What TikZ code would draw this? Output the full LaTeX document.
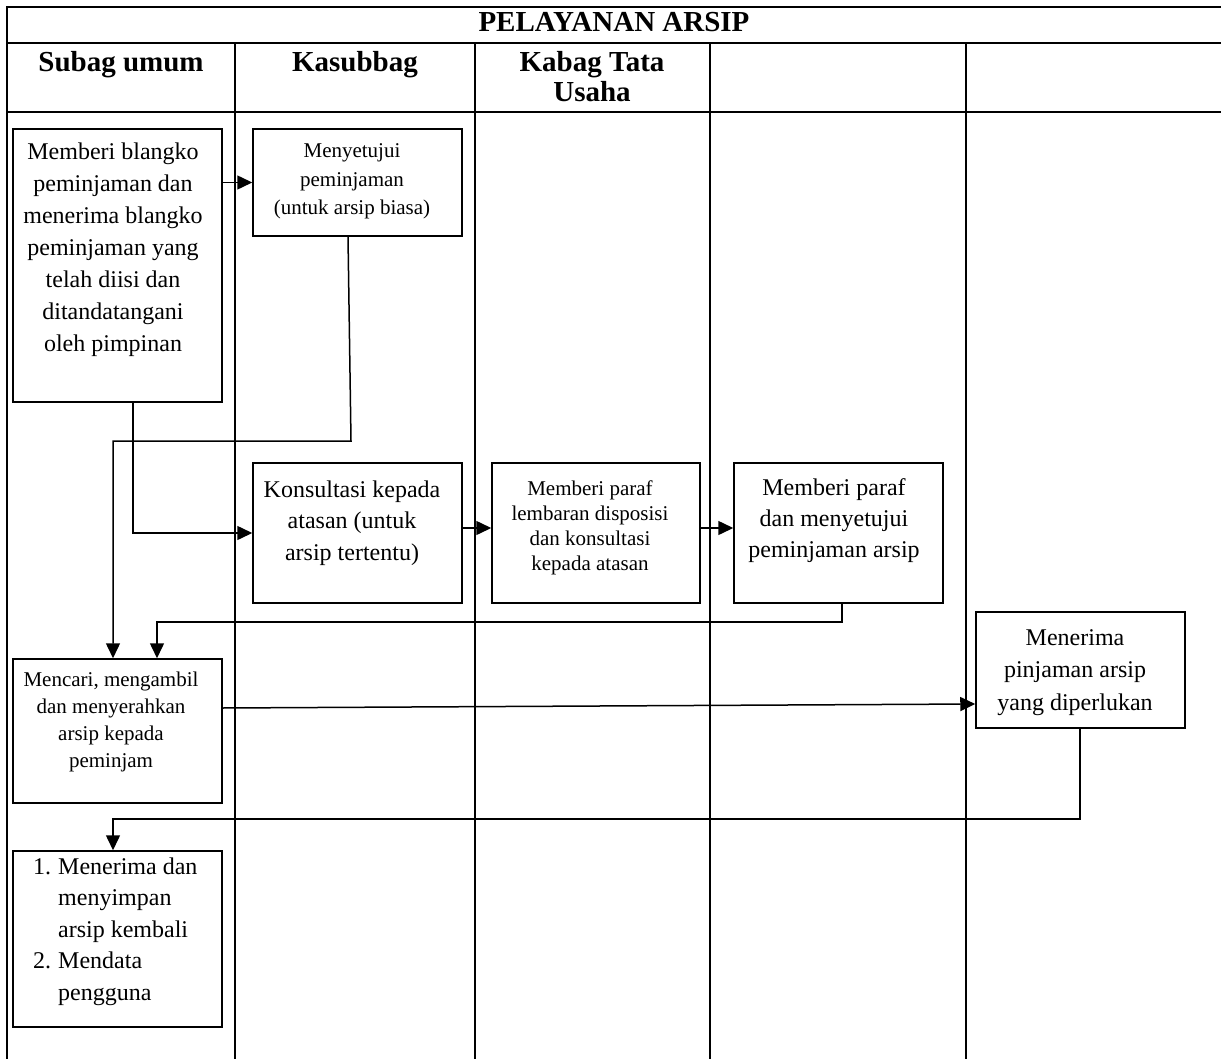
\documentclass[tikz,border=0pt]{standalone}
\usepackage{fontspec}
\setmainfont{Liberation Serif}
\usetikzlibrary{arrows.meta}
\begin{document}
\begin{tikzpicture}[x=1pt,y=-1pt,
  grid/.style={line width=2.2pt,line cap=rect},
  box/.style={draw,line width=1.5pt,inner sep=0pt,minimum width=209pt},
  conn/.style={line width=1.5pt},
  arr/.style={conn,-{Triangle[length=15pt,width=14pt]}},
  head/.style={font=\fontsize{29}{30}\selectfont\bfseries,inner sep=0pt},
  txt/.style={inner sep=0pt},
]
\useasboundingbox (0,0) rectangle (1221,1059);

% table frame and swimlanes
\draw[grid] (7,7) -- (1221,7);
\draw[grid] (7,43) -- (1221,43);
\draw[grid] (7,112) -- (1221,112);
\draw[grid] (7,7) -- (7,1059);
\foreach \x in {235,475,710,966} \draw[grid] (\x,43) -- (\x,1059);

% headings
\node[head,anchor=base] (title) at (614,32) {PELAYANAN ARSIP};
\node[head,anchor=base] (h1) at (121,72) {Subag umum};
\node[head,anchor=base] (h2) at (355,72) {Kasubbag};
\node[head] (h3) at (592,81) {\fontsize{29}{30}\selectfont\begin{tabular}{@{}c@{}}Kabag Tata\\Usaha\end{tabular}};

% process boxes
\node[box,minimum height=273pt] (box1) at (117.5,265.5) {};
\node[box,minimum height=107pt] (box2) at (357.5,182.5) {};
\node[box,minimum height=140pt] (box3) at (357.5,533) {};
\node[box,minimum height=140pt,minimum width=208pt] (box4) at (596,533) {};
\node[box,minimum height=140pt] (box5) at (838.5,533) {};
\node[box,minimum height=144pt] (boxM) at (117.5,731) {};
\node[box,minimum height=116pt] (box6) at (1080.5,670) {};
\node[box,minimum height=176pt] (box7) at (117.5,939) {};

% box texts
\node[txt,font=\fontsize{24}{32}\selectfont] (t1) at (113,249.6)
  {\begin{tabular}{@{}c@{}}Memberi blangko\\peminjaman dan\\menerima blangko\\peminjaman yang\\telah diisi dan\\ditandatangani\\oleh pimpinan\end{tabular}};
\node[txt,font=\fontsize{21}{28.5}\selectfont] (t2) at (352,180.8)
  {\begin{tabular}{@{}c@{}}Menyetujui\\peminjaman\\(untuk arsip biasa)\end{tabular}};
\node[txt,font=\fontsize{24}{31.5}\selectfont] (t3) at (352,522.2)
  {\begin{tabular}{@{}c@{}}Konsultasi kepada\\atasan (untuk\\arsip tertentu)\end{tabular}};
\node[txt,font=\fontsize{21}{25}\selectfont] (t4) at (590,527.5)
  {\begin{tabular}{@{}c@{}}Memberi paraf\\lembaran disposisi\\dan konsultasi\\kepada atasan\end{tabular}};
\node[txt,font=\fontsize{24}{31}\selectfont] (t5) at (834,519.8)
  {\begin{tabular}{@{}c@{}}Memberi paraf\\dan menyetujui\\peminjaman arsip\end{tabular}};
\node[txt,font=\fontsize{21}{27}\selectfont] (tM) at (111,722)
  {\begin{tabular}{@{}c@{}}Mencari, mengambil\\dan menyerahkan\\arsip kepada\\peminjam\end{tabular}};
\node[txt,font=\fontsize{24}{32.5}\selectfont] (t6) at (1075,671)
  {\begin{tabular}{@{}c@{}}Menerima\\pinjaman arsip\\yang diperlukan\end{tabular}};
\node[txt,anchor=west,font=\fontsize{24}{31.5}\selectfont] (t7) at (33,930.7)
  {\begin{tabular}{@{}r@{\hspace{7pt}}l@{}}1.&Menerima dan\\&menyimpan\\&arsip kembali\\2.&Mendata\\&pengguna\end{tabular}};

% routing points
\coordinate (k1) at (351,441);
\coordinate (k2) at (113,441);
\coordinate (k3) at (157,622);
\coordinate (k4) at (113,819);
\coordinate (y528) at (0,528);
\coordinate (y708) at (0,708);
\coordinate (y704) at (0,704);

% connectors
\draw[arr] (box1.east |- box2.west) -- (box2.west);
\draw[arr] ([xshift=-9.5pt]box2.south) -- (k1) -- (k2) -- (k2 |- boxM.north);
\draw[arr] ([xshift=15.5pt]box1.south) -- ([xshift=15.5pt]box1.south |- box3.west) -- (box3.west);
\draw[arr] (box3.east |- y528) -- (box4.west |- y528);
\draw[arr] (box4.east |- y528) -- (box5.west |- y528);
\draw[arr] ([xshift=3.5pt]box5.south) |- (k3) -- (k3 |- boxM.north);
\draw[arr] (boxM.east |- y708) -- (box6.west |- y704);
\draw[arr] ([xshift=-0.5pt]box6.south) |- (k4) -- (k4 |- box7.north);
\end{tikzpicture}
\end{document}
